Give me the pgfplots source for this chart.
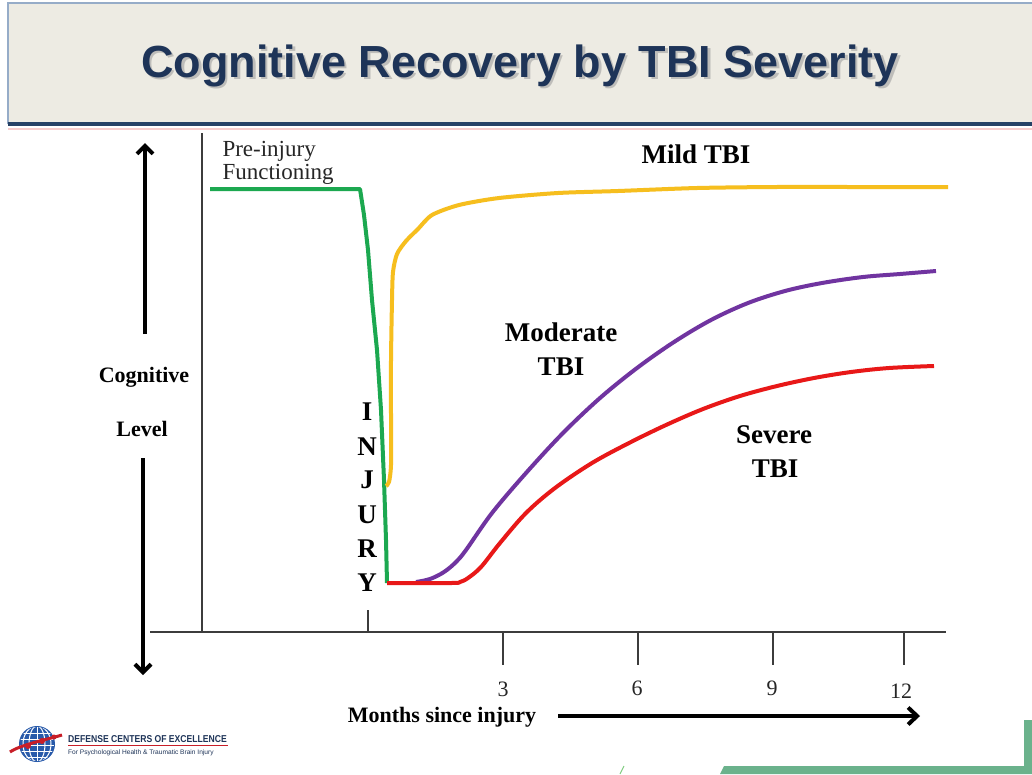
\documentclass[border=0pt]{standalone}
\usepackage{pgfplots}
\pgfplotsset{compat=1.18}
\usepackage{fontspec}
\setmainfont{Liberation Serif}
\newfontfamily\sans{Liberation Sans}
\usetikzlibrary{arrows.meta}
\definecolor{barbg}{RGB}{237,235,227}
\definecolor{barborder}{RGB}{150,172,200}
\definecolor{navy}{RGB}{30,52,88}
\definecolor{navyline}{RGB}{38,66,102}
\definecolor{cgreen}{RGB}{28,168,80}
\definecolor{cyellow}{RGB}{246,190,30}
\definecolor{cpurple}{RGB}{112,52,160}
\definecolor{cred}{RGB}{232,24,24}
\definecolor{axgray}{RGB}{60,60,60}
\definecolor{dcoe}{RGB}{107,178,140}
\definecolor{logoblue}{RGB}{40,90,170}
\definecolor{logored}{RGB}{200,30,40}
\begin{document}
\begin{tikzpicture}
\begin{axis}[name=ax, at={(0,0)}, anchor=south west, scale only axis,
  width=1032pt, height=774pt, xmin=0, xmax=1032, ymin=0, ymax=774,
  y dir=reverse, axis lines=none, clip=false]
% background
\fill[white] (0,0) rectangle (1032,774);
% title bar
\fill[barbg] (8,3) rectangle (1032,124);
\draw[barborder, line width=1.2pt] (8,124) -- (8,3) -- (1032,3);
\draw[black!15!red!20, line width=2pt] (8,128.5) -- (1032,128.5);
\draw[navyline, line width=4pt] (8,124) -- (1032,124);
\node[anchor=base, text=black!40, opacity=0.55, font=\sans\bfseries\fontsize{45}{50}\selectfont] at (522.5,79.5) {Cognitive Recovery by TBI Severity};
\node[anchor=base, text=navy, font=\sans\bfseries\fontsize{45}{50}\selectfont] at (520,77) {Cognitive Recovery by TBI Severity};
% axes lines
\draw[axgray, line width=1.2pt] (202,133) -- (202,632);
\draw[axgray, line width=1.2pt] (150,632) -- (946,632);
\draw[axgray, line width=1.2pt] (368,610) -- (368,632);
\draw[axgray, line width=1.2pt] (503,632) -- (503,665);
\draw[axgray, line width=1.2pt] (638,632) -- (638,665);
\draw[axgray, line width=1.2pt] (773,632) -- (773,665);
\draw[axgray, line width=1.2pt] (904,632) -- (904,665);
% tick labels
\node[anchor=base, font=\fontsize{22}{24}\selectfont, text=black!85] at (503,696) {3};
\node[anchor=base, font=\fontsize{22}{24}\selectfont, text=black!85] at (637,695) {6};
\node[anchor=base, font=\fontsize{22}{24}\selectfont, text=black!85] at (772,695) {9};
\node[anchor=base, font=\fontsize{22}{24}\selectfont, text=black!85] at (901,698) {12};
% axis titles
\node[anchor=base, font=\bfseries\fontsize{22}{24}\selectfont] at (442,722) {Months since injury};
\draw[line width=4pt, -{Straight Barb[length=9pt,width=17pt]}] (558,716) -- (920,716);
\node[anchor=base, font=\bfseries\fontsize{22}{24}\selectfont] at (144,382) {Cognitive};
\node[anchor=base, font=\bfseries\fontsize{22}{24}\selectfont] at (142,436) {Level};
\draw[line width=4pt, -{Straight Barb[length=8pt,width=16pt]}] (145,334) -- (145,143);
\draw[line width=4pt, -{Straight Barb[length=8pt,width=16pt]}] (143,458) -- (143,675);
% text labels
\node[anchor=base west, font=\fontsize{23}{24}\selectfont, text=black!85] at (219,156) {Pre-injury};
\node[anchor=base west, font=\fontsize{23}{24}\selectfont, text=black!85] at (219,179) {Functioning};
\node[anchor=base, font=\bfseries\fontsize{27}{30}\selectfont] at (696,163) {Mild TBI};
\node[anchor=base, font=\bfseries\fontsize{27}{30}\selectfont] at (561,341) {Moderate};
\node[anchor=base, font=\bfseries\fontsize{27}{30}\selectfont] at (561,375) {TBI};
\node[anchor=base, font=\bfseries\fontsize{27}{30}\selectfont] at (774,443) {Severe};
\node[anchor=base, font=\bfseries\fontsize{27}{30}\selectfont] at (775,477) {TBI};
\node[anchor=base, font=\bfseries\fontsize{27}{30}\selectfont] at (367,420) {I};
\node[anchor=base, font=\bfseries\fontsize{27}{30}\selectfont] at (367,455) {N};
\node[anchor=base, font=\bfseries\fontsize{27}{30}\selectfont] at (367,488) {J};
\node[anchor=base, font=\bfseries\fontsize{27}{30}\selectfont] at (367,523) {U};
\node[anchor=base, font=\bfseries\fontsize{27}{30}\selectfont] at (367,557) {R};
\node[anchor=base, font=\bfseries\fontsize{27}{30}\selectfont] at (367,591) {Y};
% curves
\addplot[cgreen, line width=4pt, line join=round] coordinates {(210,189)(360,189)(364,215)(368,250)(372,300)(377,350)(381,410)(384,480)(386,540)(387,583)};
\addplot[cyellow, line width=4pt, smooth, tension=0.45] coordinates {(386,486)(389,482)(391,465)(391,420)(391,360)(392,300)(393,272)(397,254)(406,241)(418,229)(432,215)(459,205)(499,198)(558,193)(618,191)(697,188)(776,187)(856,187)(948,187)};
\addplot[cpurple, line width=4pt, smooth, tension=0.55] coordinates {(416,582)(430,579)(444,572)(456,562)(466,550)(492,513)(526,473)(563,433)(600,398)(637,368)(674,342)(711,320)(748,303)(785,291)(822,283)(863,277)(900,274)(936,271)};
\addplot[cred, line width=4pt, smooth, tension=0.55] coordinates {(387,583)(451,583)(460,582)(468,578)(481,567)(500,543)(526,513)(555,488)(592,463)(629,443)(666,425)(703,409)(740,396)(777,386)(814,378)(851,372)(889,368)(934,366)};
% logo
\fill[logoblue] (37,744) circle (18);
\begin{scope}
\clip (37,744) circle (17);
\draw[white, line width=1pt] (15,733) -- (60,733);
\draw[white, line width=1pt] (15,739) -- (60,739);
\draw[white, line width=1pt] (15,745) -- (60,745);
\draw[white, line width=1pt] (15,751) -- (60,751);
\draw[white, line width=1pt] (15,757) -- (60,757);
\draw[white, line width=1pt] (37,726) -- (37,762);
\draw[white, line width=1pt] (37,744) ellipse (8 and 18);
\draw[white, line width=1pt] (37,744) ellipse (14 and 18);
\end{scope}
\draw[logored, line width=3pt] (10,752) .. controls (20,745) and (45,740) .. (62,735);
\fill[logored] (28,746) circle (3);
\fill[logored] (42,741) circle (3);
\fill[logored] (54,737) circle (2.5);
\node[anchor=base west, text=navy, font=\sans\bfseries\fontsize{10}{11}\selectfont, xscale=0.86, inner sep=0pt] at (68,742) {DEFENSE CENTERS OF EXCELLENCE};
\draw[logored, line width=1.3pt] (68,745.5) -- (228,745.5);
\node[anchor=base west, text=navy, font=\sans\fontsize{6.6}{7}\selectfont, inner sep=0pt] at (68,754) {For Psychological Health \& Traumatic Brain Injury};
% bottom right decoration
\fill[dcoe] (1024,720) rectangle (1032,774);
\fill[dcoe] (724,766) -- (1032,766) -- (1032,774) -- (720,774) -- cycle;
\draw[green!60!black!50!white, line width=1pt] (620,774) -- (624,766);
\end{axis}
\pgfresetboundingbox
\path (ax.south west) rectangle (ax.north east);
\end{tikzpicture}
\end{document}
